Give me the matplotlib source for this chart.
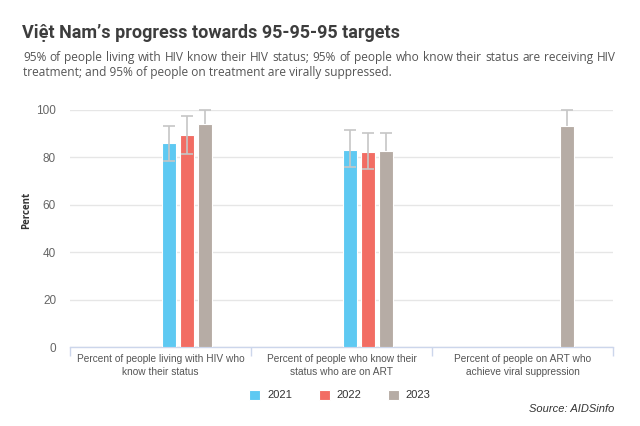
import matplotlib
matplotlib.use("Agg")
import matplotlib.pyplot as plt
import numpy as np

# ---- data ----
categories = ["Percent of people living with HIV who\nknow their status",
              "Percent of people who know their\nstatus who are on ART",
              "Percent of people on ART who\nachieve viral suppression"]
years = ["2021", "2022", "2023"]
values_2021 = [85.9, 83.1, np.nan]
values_2022 = [89.5, 82.4, np.nan]
values_2023 = [94.0, 82.8, 93.4]
low_2021 = [78.5, 76.1, np.nan]
high_2021 = [93.4, 91.6, np.nan]
low_2022 = [81.3, 75.1, np.nan]
high_2022 = [97.6, 90.4, np.nan]
low_2023 = [88.0, 75.5, 87.0]
high_2023 = [100.0, 90.4, 100.0]
yticks = [0, 20, 40, 60, 80, 100]

colors = ["#5ec9f2", "#f26d64", "#b6aca5"]
W, H = 640, 426
fig = plt.figure(figsize=(W / 100, H / 100), dpi=100)
fig.patch.set_facecolor("white")

# axes placement in pixels
left, right, top, bottom = 70, 613, 110, 347
ax = fig.add_axes([left / W, 1 - bottom / H, (right - left) / W, (bottom - top) / H])

x = np.arange(len(categories))
offsets = [0.047, 0.146, 0.246]
width = 0.08
series = [(values_2021, low_2021, high_2021), (values_2022, low_2022, high_2022),
          (values_2023, low_2023, high_2023)]
for i, (vals, lo, hi) in enumerate(series):
    vals = np.array(vals, dtype=float)
    lo = np.array(lo, dtype=float)
    hi = np.array(hi, dtype=float)
    xs = x + offsets[i]
    ax.bar(xs, vals, width=width, color=colors[i], edgecolor="white", linewidth=0.8,
           label=years[i], zorder=3)
    m = ~np.isnan(vals)
    err = np.vstack([vals[m] - lo[m], hi[m] - vals[m]])
    ax.errorbar(xs[m], vals[m], yerr=err, fmt="none", ecolor="#c6c6c6",
                elinewidth=1.2, capsize=4, capthick=1.2,
                zorder=2.5 if i == 2 else 4, clip_on=False)

ax.set_xlim(-0.5, 2.5)
ax.set_ylim(0, 100)
ax.set_yticks(yticks)
ax.set_yticklabels([str(v) for v in yticks], fontsize=8.5, color="#666666",
                   family="Liberation Sans")
ax.tick_params(axis="y", length=0, pad=10)
ax.yaxis.grid(True, color="#e6e6e6", linewidth=1, zorder=0)
ax.set_axisbelow(True)
for s in ["top", "right", "left"]:
    ax.spines[s].set_visible(False)
ax.spines["bottom"].set_color("#ccd6eb")
ax.spines["bottom"].set_linewidth(1)

# category boundary ticks
ax.set_xticks([-0.5, 0.5, 1.5, 2.5])
ax.set_xticklabels([])
ax.tick_params(axis="x", length=6.5, color="#ccd6eb", width=1)
for xi, lab in zip(x, categories):
    ax.text(xi, -3.0, lab, ha="center", va="top", fontsize=7.3, color="#555555",
            family="Liberation Sans", linespacing=1.3, transform=ax.transData)

# y label
fig.text(27 / W, 1 - 210 / H, "Percent", rotation=90, ha="center", va="center",
         fontsize=7, fontweight="bold", color="#333333", family="Open Sans")

# title
fig.text(22 / W, 1 - 38 / H, "Việt Nam’s progress towards 95-95-95 targets",
         fontsize=13, fontweight="bold", color="#3d3d3d", family="Roboto",
         ha="left", va="baseline")

# justified subtitle
renderer = fig.canvas.get_renderer()
sub_kw = dict(fontsize=8.6, color="#555555", family="Open Sans")
line1 = "95% of people living with HIV know their HIV status; 95% of people who know their status are receiving HIV"
line2 = "treatment; and 95% of people on treatment are virally suppressed."
words = line1.split()
widths = []
for w in words:
    t = fig.text(0, 0, w, **sub_kw)
    widths.append(t.get_window_extent(renderer).width)
    t.remove()
x0, x1 = 23, 616
gap = (x1 - x0 - sum(widths)) / (len(words) - 1)
xp = x0
for w, wd in zip(words, widths):
    fig.text(xp / W, 1 - 61 / H, w, ha="left", va="baseline", **sub_kw)
    xp += wd + gap
fig.text(x0 / W, 1 - 76 / H, line2, ha="left", va="baseline", **sub_kw)

# legend
handles, labels = ax.get_legend_handles_labels()
leg = fig.legend(handles, labels, loc="center", bbox_to_anchor=(340 / W, 1 - 395 / H),
                 ncol=3, frameon=False, handlelength=1.0, handleheight=1.0,
                 handletextpad=0.6, columnspacing=2.4,
                 prop={"family": "Liberation Sans", "size": 8})
for t in leg.get_texts():
    t.set_color("#333333")

# source
fig.text(614 / W, 1 - 412 / H, "Source: AIDSinfo", ha="right", va="baseline",
         fontsize=8, style="italic", color="#333333", family="Liberation Sans")

fig.savefig("out.png", dpi=100)
